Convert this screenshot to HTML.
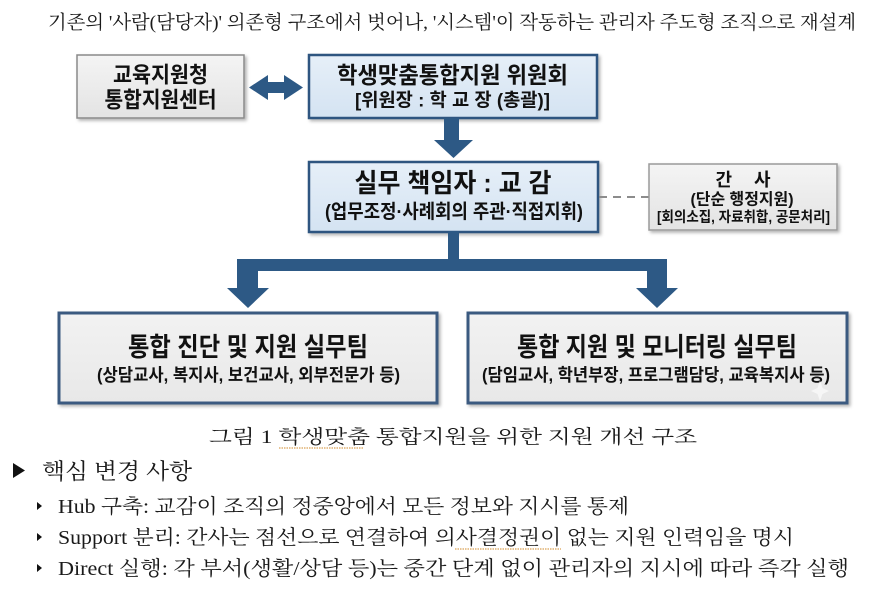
<!DOCTYPE html>
<html><head><meta charset="utf-8"><style>
html,body{margin:0;padding:0;background:#fff;}
svg{display:block;}
.s{font-family:"Liberation Serif","Noto Serif CJK KR","Noto Serif CJK SC",serif;fill:#1a1a1a;}
.b{font-family:"Liberation Sans","Noto Sans CJK KR",sans-serif;font-weight:bold;fill:#111;}
</style></head><body>
<svg width="881" height="614" viewBox="0 0 881 614" xmlns="http://www.w3.org/2000/svg">
<defs>
<linearGradient id="gg" x1="0" y1="0" x2="0" y2="1"><stop offset="0" stop-color="#f4f4f4"/><stop offset="1" stop-color="#e3e3e3"/></linearGradient>
<linearGradient id="gb" x1="0" y1="0" x2="0" y2="1"><stop offset="0" stop-color="#e6eff8"/><stop offset="1" stop-color="#d4e3f2"/></linearGradient>
<linearGradient id="gl" x1="0" y1="0" x2="0" y2="1"><stop offset="0" stop-color="#f2f2f2"/><stop offset="1" stop-color="#e8e8e8"/></linearGradient>
<filter id="sh" x="-10%" y="-10%" width="130%" height="140%"><feDropShadow dx="2" dy="2" stdDeviation="1.5" flood-color="#000" flood-opacity="0.3"/></filter>
</defs>
<rect width="881" height="614" fill="#fff"/>

<!-- header -->
<text class="s" x="48" y="28.5" font-size="19" textLength="808" lengthAdjust="spacingAndGlyphs">기존의 '사람(담당자)' 의존형 구조에서 벗어나, '시스템'이 작동하는 관리자 주도형 조직으로 재설계</text>

<!-- box 1 -->
<rect x="77" y="55" width="167" height="63" fill="url(#gg)" stroke="#8a8a8a" stroke-width="1.5" filter="url(#sh)"/>
<text class="b" x="160.5" y="75" font-size="22" text-anchor="middle" dominant-baseline="central" textLength="95" lengthAdjust="spacingAndGlyphs">교육지원청</text>
<text class="b" x="160.5" y="100" font-size="22" text-anchor="middle" dominant-baseline="central" textLength="112" lengthAdjust="spacingAndGlyphs">통합지원센터</text>

<!-- double arrow -->
<polygon points="249,87.5 268,75 268,82 284,82 284,75 303,87.5 284,100 284,93 268,93 268,100" fill="#2d5985"/>

<!-- committee -->
<rect x="309" y="55" width="288" height="63" fill="url(#gb)" stroke="#2f5480" stroke-width="2.5" filter="url(#sh)"/>
<text class="b" x="452.5" y="75" font-size="23" text-anchor="middle" dominant-baseline="central" textLength="231" lengthAdjust="spacingAndGlyphs">학생맞춤통합지원 위원회</text>
<text class="b" x="452.5" y="100" font-size="18.5" text-anchor="middle" dominant-baseline="central" textLength="195" lengthAdjust="spacingAndGlyphs">[위원장 : 학 교 장 (총괄)]</text>

<!-- down arrow -->
<polygon points="444,118 459,118 459,140 473,140 453.5,158 434,140 444,140" fill="#2d5985"/>

<!-- 실무 box -->
<rect x="309" y="162" width="289" height="70" fill="url(#gb)" stroke="#2f5480" stroke-width="2.5" filter="url(#sh)"/>
<text class="b" x="453" y="183" font-size="26" text-anchor="middle" dominant-baseline="central" textLength="197" lengthAdjust="spacingAndGlyphs">실무 책임자 : 교 감</text>
<text class="b" x="454" y="212" font-size="19.5" text-anchor="middle" dominant-baseline="central" textLength="258" lengthAdjust="spacingAndGlyphs">(업무조정·사례회의 주관·직접지휘)</text>

<!-- dashed -->
<line x1="599" y1="197" x2="649" y2="197" stroke="#8c8c8c" stroke-width="2" stroke-dasharray="8,6"/>

<!-- 간사 -->
<rect x="649" y="164" width="188" height="66" fill="url(#gg)" stroke="#9a9a9a" stroke-width="1.5" filter="url(#sh)"/>
<text class="b" x="743" y="180" font-size="18" text-anchor="middle" dominant-baseline="central" textLength="55" lengthAdjust="spacing">간 사</text>
<text class="b" x="742" y="200" font-size="16" text-anchor="middle" dominant-baseline="central" textLength="103" lengthAdjust="spacingAndGlyphs">(단순 행정지원)</text>
<text class="b" x="743.5" y="218" font-size="14.5" text-anchor="middle" dominant-baseline="central" textLength="173" lengthAdjust="spacingAndGlyphs">[회의소집, 자료취합, 공문처리]</text>

<!-- T connector -->
<polygon points="448,231 459,231 459,259 667,259 667,288 678,288 657,308 636,288 647,288 647,271 258,271 258,288 269,288 248,308 227,288 237,288 237,259 448,259" fill="#2d5985"/>

<!-- bottom boxes -->
<rect x="59" y="313" width="378" height="90" fill="url(#gl)" stroke="#3b5a80" stroke-width="3" filter="url(#sh)"/>
<text class="b" x="248" y="347" font-size="26" text-anchor="middle" dominant-baseline="central" textLength="240" lengthAdjust="spacingAndGlyphs">통합 진단 및 지원 실무팀</text>
<text class="b" x="248.5" y="375" font-size="17.5" text-anchor="middle" dominant-baseline="central" textLength="303" lengthAdjust="spacingAndGlyphs">(상담교사, 복지사, 보건교사, 외부전문가 등)</text>

<rect x="468" y="313" width="379" height="90" fill="url(#gl)" stroke="#3b5a80" stroke-width="3" filter="url(#sh)"/>
<text class="b" x="657" y="347" font-size="26" text-anchor="middle" dominant-baseline="central" textLength="280" lengthAdjust="spacingAndGlyphs">통합 지원 및 모니터링 실무팀</text>
<text class="b" x="656" y="375" font-size="17.5" text-anchor="middle" dominant-baseline="central" textLength="348" lengthAdjust="spacingAndGlyphs">(담임교사, 학년부장, 프로그램담당, 교육복지사 등)</text>
<polygon points="820,380 822.5,388 829,391 822.5,394 820,401 817.5,394 811,391 817.5,388" fill="#ffffff" opacity="0.6"/>

<!-- caption -->
<text class="s" x="209" y="443" font-size="19" textLength="488" lengthAdjust="spacingAndGlyphs">그림 1 학생맞춤 통합지원을 위한 지원 개선 구조</text>
<line x1="279" y1="448" x2="363" y2="448" stroke="#d08a2a" stroke-width="1" stroke-dasharray="1.5,1"/>

<!-- key changes -->
<polygon points="13,463 25,470.5 13,478" fill="#111"/>
<text class="s" x="42" y="479" font-size="22" textLength="150" lengthAdjust="spacingAndGlyphs">핵심 변경 사항</text>

<polygon points="37,502 42,506 37,510" fill="#111"/>
<text class="s" x="58" y="513" font-size="20" textLength="571" lengthAdjust="spacingAndGlyphs">Hub 구축: 교감이 조직의 정중앙에서 모든 정보와 지시를 통제</text>

<polygon points="37,533 42,537 37,541" fill="#111"/>
<text class="s" x="58" y="544" font-size="20" textLength="736" lengthAdjust="spacingAndGlyphs">Support 분리: 간사는 점선으로 연결하여 의사결정권이 없는 지원 인력임을 명시</text>
<line x1="455" y1="549" x2="561" y2="549" stroke="#d08a2a" stroke-width="1" stroke-dasharray="1.5,1"/>

<polygon points="37,564 42,568 37,572" fill="#111"/>
<text class="s" x="58" y="575" font-size="20" textLength="791" lengthAdjust="spacingAndGlyphs">Direct 실행: 각 부서(생활/상담 등)는 중간 단계 없이 관리자의 지시에 따라 즉각 실행</text>
</svg>
</body></html>
